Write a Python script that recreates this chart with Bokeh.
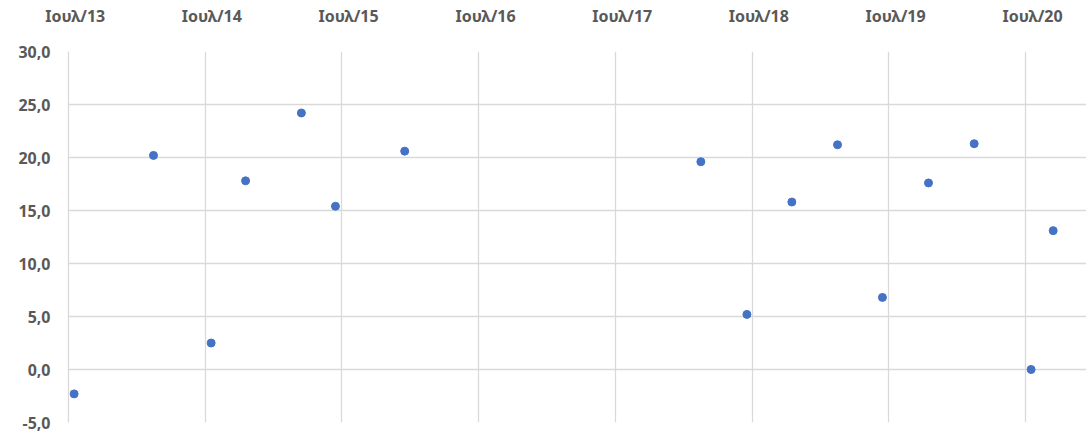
import pandas as pd
from bokeh.plotting import figure
from bokeh.models import FixedTicker, CustomJSTickFormatter, Range1d
from bokeh.embed import file_html
from bokeh.resources import INLINE

# ---- data ----
dates = ["2013-07-16", "2014-02-13", "2014-07-17", "2014-10-17", "2015-03-15",
         "2015-06-14", "2015-12-16", "2018-02-14", "2018-06-17", "2018-10-15",
         "2019-02-14", "2019-06-14", "2019-10-15", "2020-02-14", "2020-07-15",
         "2020-09-12"]
values = [-2.3, 20.2, 2.5, 17.8, 24.2, 15.4, 20.6, 19.6, 5.2, 15.8,
          21.2, 6.8, 17.6, 21.3, 0.0, 13.1]
x_tick_dates = ["2013-07-01", "2014-07-01", "2015-07-01", "2016-07-01",
                "2017-07-01", "2018-07-01", "2019-07-01", "2020-07-01"]
x_tick_labels = ["Ιουλ/13", "Ιουλ/14", "Ιουλ/15", "Ιουλ/16",
                 "Ιουλ/17", "Ιουλ/18", "Ιουλ/19", "Ιουλ/20"]
y_ticks = [-5, 0, 5, 10, 15, 20, 25, 30]

def ms(d):
    return pd.Timestamp(d).value / 1e6

xs = [pd.Timestamp(d) for d in dates]
grid_ticks = [ms(d) for d in x_tick_dates]
label_ticks = [ms(pd.Timestamp(d) + pd.Timedelta(days=18)) for d in x_tick_dates]
label_map = {str(int(t)): lab for t, lab in zip(label_ticks, x_tick_labels)}

p = figure(width=1086, height=434, output_backend="svg", toolbar_location=None,
           x_axis_type="datetime", x_axis_location="above",
           min_border_left=68, min_border_top=51, min_border_right=0,
           min_border_bottom=12)
p.x_range = Range1d(ms("2013-07-01"), ms("2020-12-10"))
p.y_range = Range1d(-5, 30)
p.outline_line_color = None

p.scatter(xs, values, size=8, color="#4472C4", line_color="#4472C4")

# x axis (top)
xa = p.xaxis[0]
xa.ticker = FixedTicker(ticks=label_ticks)
xa.formatter = CustomJSTickFormatter(args=dict(m=label_map),
                                     code="return m[String(Math.round(tick))] || '';")
xa.axis_line_color = None
xa.major_tick_line_color = None
xa.minor_tick_line_color = None
xa.major_label_standoff = 19
xa.major_label_text_font = "Noto Sans"
xa.major_label_text_font_style = "bold"
xa.major_label_text_font_size = "16px"
xa.major_label_text_color = "#595959"

ya = p.yaxis[0]
ya.ticker = FixedTicker(ticks=y_ticks)
ya.formatter = CustomJSTickFormatter(code="return tick.toFixed(1).replace('.', ',');")
ya.axis_line_color = "#D9D9D9"
ya.axis_line_width = 1.3
ya.major_tick_line_color = None
ya.minor_tick_line_color = None
ya.major_label_standoff = 12
ya.major_label_text_font = "Noto Sans"
ya.major_label_text_font_style = "bold"
ya.major_label_text_font_size = "16px"
ya.major_label_text_color = "#595959"

p.xgrid.ticker = FixedTicker(ticks=grid_ticks)
p.xgrid.grid_line_color = "#D9D9D9"
p.ygrid.grid_line_color = "#D9D9D9"
p.xgrid.grid_line_width = 1.3
p.ygrid.grid_line_width = 1.3

open("out.html", "w").write(file_html(p, INLINE))
